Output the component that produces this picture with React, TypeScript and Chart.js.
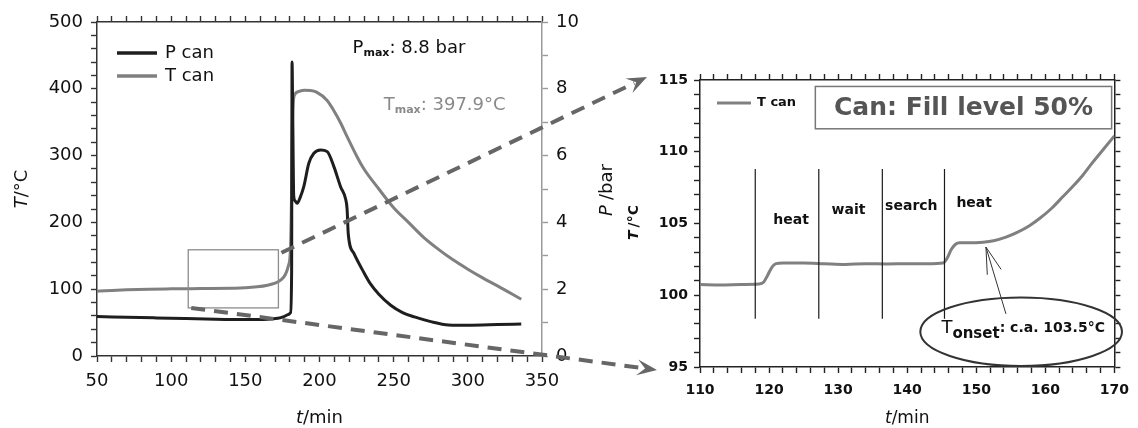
import React, { useEffect, useRef } from 'react';
import { Chart, registerables } from 'chart.js';

Chart.register(...registerables);

const FONT = "'DejaVu Sans', Verdana, sans-serif";
const T_COLOR = '#808080';
const P_COLOR = '#1e1e1e';

// ---------------- Left panel data ----------------
const tCanTime = [50, 60, 70, 85, 100, 120, 140, 150, 158, 165, 170, 174, 177, 179, 180.4, 181.1, 181.6, 182.2, 183, 186, 190, 194, 198, 205, 209.5, 214, 218.7, 225.4, 230, 240, 250, 260, 270, 280, 290, 300, 310, 320, 336];
const tCanTemp = [97, 98, 99, 100, 100.5, 101, 101.5, 102, 103.5, 106, 109, 114, 122, 135, 159, 234, 330, 375, 390, 396, 397.9, 397.5, 395, 383, 368, 350, 328, 298, 280, 250, 222, 200, 178, 160, 144, 130, 117, 105, 85];

const pCanTime = [50, 70, 90, 110, 130, 150, 165, 172, 176, 179, 180.5, 181.2, 181.5, 182, 182.6, 183.5, 184.9, 187, 189.4, 192.8, 196.2, 200.7, 205.2, 209.7, 214.2, 217.6, 218.6, 219.4, 223.2, 229.9, 234.5, 240, 248, 256, 264, 275, 287, 300, 320, 336];
const pCanPressure = [1.18, 1.16, 1.14, 1.12, 1.1, 1.09, 1.1, 1.13, 1.18, 1.24, 1.3, 2.5, 8.8, 7.0, 4.8, 4.65, 4.57, 4.75, 5.07, 5.77, 6.07, 6.17, 6.12, 5.67, 5.07, 4.7, 4.4, 3.65, 3.07, 2.5, 2.15, 1.85, 1.52, 1.3, 1.17, 1.03, 0.93, 0.92, 0.94, 0.96];

const leftTimeRange = [50, 350];
const leftTempRange = [0, 500];
const pressureRange = [0, 10];

const zoomBoxTime = [111.5, 172.3];
const zoomBoxTemp = [72, 159];

// ---------------- Right panel data ----------------
const zoomTime = [110, 113, 116, 118.5, 119.2, 119.8, 120.4, 121, 122, 125, 128, 131, 134, 137, 140, 143, 145.2, 145.8, 146.4, 147, 147.6, 149, 151, 152.5, 154.3, 156, 157.7, 159.3, 161, 162.6, 164.2, 165.4, 166.6, 168.3, 170];
const zoomTemp = [100.75, 100.72, 100.75, 100.78, 100.9, 101.4, 101.95, 102.2, 102.25, 102.25, 102.2, 102.15, 102.2, 102.18, 102.2, 102.2, 102.25, 102.6, 103.2, 103.55, 103.65, 103.65, 103.7, 103.8, 104.05, 104.4, 104.85, 105.4, 106.1, 106.9, 107.7, 108.35, 109.1, 110.1, 111.1];

const rightTimeRange = [110, 170];
const rightTempRange = [95, 115];

const phaseBoundaries = [118, 127.2, 136.4, 145.4];
const phaseLineTemp = [98.36, 108.8];
const phaseLabels = ['heat', 'wait', 'search', 'heat'];
const phaseLabelTime = [123.2, 131.5, 140.6, 149.7];
const phaseLabelTemp = [105.2, 105.9, 106.2, 106.4];

const titleBoxTime = [126.7, 169.6];
const titleBoxTemp = [111.6, 114.55];

const onsetEllipseTime = [141.9, 171.1];
const onsetEllipseTemp = [95.07, 99.84];
const onsetArrowTime = [154.3, 151.4];
const onsetArrowTemp = [98.7, 103.36];

type Part = { text: string; font: string; dy?: number; color?: string; gap?: number };

function drawRich(ctx: CanvasRenderingContext2D, parts: Part[], x: number, y: number, align: 'left' | 'center', color: string) {
  ctx.save();
  ctx.textBaseline = 'middle';
  ctx.textAlign = 'left';
  let total = 0;
  for (const p of parts) {
    ctx.font = p.font;
    total += ctx.measureText(p.text).width + (p.gap || 0);
  }
  let cx = align === 'center' ? x - total / 2 : x;
  for (const p of parts) {
    ctx.font = p.font;
    ctx.fillStyle = p.color || color;
    ctx.fillText(p.text, cx, y + (p.dy || 0));
    cx += ctx.measureText(p.text).width + (p.gap || 0);
  }
  ctx.restore();
}

function drawRotated(ctx: CanvasRenderingContext2D, parts: Part[], x: number, y: number, color: string) {
  ctx.save();
  ctx.translate(x, y);
  ctx.rotate(-Math.PI / 2);
  drawRich(ctx, parts, 0, 0, 'center', color);
  ctx.restore();
}

function dashedArrow(ctx: CanvasRenderingContext2D, x0: number, y0: number, x1: number, y1: number) {
  const dx = x1 - x0, dy = y1 - y0;
  const len = Math.hypot(dx, dy);
  const ux = dx / len, uy = dy / len;
  const head = 20;
  ctx.save();
  ctx.strokeStyle = '#666';
  ctx.lineWidth = 4;
  ctx.setLineDash([14, 9]);
  ctx.beginPath();
  ctx.moveTo(x0, y0);
  ctx.lineTo(x1 - ux * head * 0.7, y1 - uy * head * 0.7);
  ctx.stroke();
  ctx.setLineDash([]);
  ctx.fillStyle = '#666';
  const bx = x1 - ux * head, by = y1 - uy * head;
  const px = -uy, py = ux;
  ctx.beginPath();
  ctx.moveTo(x1, y1);
  ctx.lineTo(bx + px * 8, by + py * 8);
  ctx.lineTo(x1 - ux * head * 0.6, y1 - uy * head * 0.6);
  ctx.lineTo(bx - px * 8, by - py * 8);
  ctx.closePath();
  ctx.fill();
  ctx.restore();
}

const leftDecor = {
  id: 'leftDecor',
  afterDraw(chart: any) {
    const { ctx, chartArea: a } = chart;
    const x = chart.scales.x, y = chart.scales.y, y1 = chart.scales.y1;
    ctx.save();
    // zoom rectangle
    const rx0 = x.getPixelForValue(zoomBoxTime[0]);
    const rx1 = x.getPixelForValue(zoomBoxTime[1]);
    const ry0 = y.getPixelForValue(zoomBoxTemp[1]);
    const ry1 = y.getPixelForValue(zoomBoxTemp[0]);
    ctx.strokeStyle = '#8c8c8c';
    ctx.lineWidth = 1.3;
    ctx.strokeRect(rx0, ry0, rx1 - rx0, ry1 - ry0);

    // legend
    const items = [
      { label: 'P can', color: P_COLOR },
      { label: 'T can', color: T_COLOR },
    ];
    items.forEach((it, i) => {
      const ly = a.top + 31 + i * 23;
      const lx = a.left + 20;
      ctx.strokeStyle = it.color;
      ctx.lineWidth = 3.5;
      ctx.beginPath();
      ctx.moveTo(lx, ly);
      ctx.lineTo(lx + 40, ly);
      ctx.stroke();
      ctx.fillStyle = '#111';
      ctx.font = `18px ${FONT}`;
      ctx.textBaseline = 'middle';
      ctx.textAlign = 'left';
      ctx.fillText(it.label, lx + 48, ly);
    });

    // Pmax / Tmax annotations
    drawRich(ctx, [
      { text: 'P', font: `18px ${FONT}` },
      { text: 'max', font: `bold 11px ${FONT}`, dy: 5 },
      { text: ': 8.8 bar', font: `18px ${FONT}` },
    ], x.getPixelForValue(222.3), y1.getPixelForValue(9.22), 'left', '#111');
    drawRich(ctx, [
      { text: 'T', font: `18px ${FONT}` },
      { text: 'max', font: `bold 11px ${FONT}`, dy: 5 },
      { text: ': 397.9°C', font: `18px ${FONT}` },
    ], x.getPixelForValue(243.3), y.getPixelForValue(375.7), 'left', '#8a8a8a');

    // axis titles
    drawRotated(ctx, [
      { text: 'T', font: `italic 18px ${FONT}` },
      { text: '/°C', font: `18px ${FONT}` },
    ], a.left - 75, (a.top + a.bottom) / 2, '#111');
    drawRich(ctx, [
      { text: 't', font: `italic 18px ${FONT}` },
      { text: '/min', font: `18px ${FONT}` },
    ], (a.left + a.right) / 2, a.bottom + 62, 'center', '#111');
    drawRotated(ctx, [
      { text: 'P', font: `italic 18px ${FONT}`, gap: 5 },
      { text: '/bar', font: `18px ${FONT}` },
    ], a.right + 65, (a.top + a.bottom) / 2 + 1, '#111');
    ctx.restore();
  },
};

const makeRightDecor = (getLeft: () => any) => ({
  id: 'rightDecor',
  afterDraw(chart: any) {
    const { ctx, chartArea: a } = chart;
    const x = chart.scales.x, y = chart.scales.y;
    ctx.save();

    // phase lines
    ctx.strokeStyle = '#1a1a1a';
    ctx.lineWidth = 1.2;
    phaseBoundaries.forEach((t) => {
      const px = x.getPixelForValue(t);
      ctx.beginPath();
      ctx.moveTo(px, y.getPixelForValue(phaseLineTemp[1]));
      ctx.lineTo(px, y.getPixelForValue(phaseLineTemp[0]));
      ctx.stroke();
    });
    ctx.font = `bold 14px ${FONT}`;
    ctx.fillStyle = '#111';
    ctx.textAlign = 'center';
    ctx.textBaseline = 'middle';
    phaseLabels.forEach((lab, i) => {
      ctx.fillText(lab, x.getPixelForValue(phaseLabelTime[i]), y.getPixelForValue(phaseLabelTemp[i]));
    });

    // legend
    const ly = a.top + 23;
    ctx.strokeStyle = T_COLOR;
    ctx.lineWidth = 3;
    ctx.beginPath();
    ctx.moveTo(a.left + 17, ly);
    ctx.lineTo(a.left + 51, ly);
    ctx.stroke();
    ctx.font = `bold 13px ${FONT}`;
    ctx.fillStyle = '#111';
    ctx.textAlign = 'left';
    ctx.fillText('T can', a.left + 57, ly);

    // title box
    const bx0 = x.getPixelForValue(titleBoxTime[0]);
    const bx1 = x.getPixelForValue(titleBoxTime[1]);
    const by0 = y.getPixelForValue(titleBoxTemp[1]);
    const by1 = y.getPixelForValue(titleBoxTemp[0]);
    ctx.strokeStyle = '#777';
    ctx.lineWidth = 1.5;
    ctx.strokeRect(bx0, by0, bx1 - bx0, by1 - by0);
    ctx.font = `bold 25px ${FONT}`;
    ctx.fillStyle = '#555';
    ctx.textAlign = 'center';
    ctx.fillText('Can: Fill level 50%', (bx0 + bx1) / 2, (by0 + by1) / 2 + 1);

    // onset ellipse
    const ex0 = x.getPixelForValue(onsetEllipseTime[0]);
    const ex1 = x.getPixelForValue(onsetEllipseTime[1]);
    const ey0 = y.getPixelForValue(onsetEllipseTemp[1]);
    const ey1 = y.getPixelForValue(onsetEllipseTemp[0]);
    ctx.strokeStyle = '#333';
    ctx.lineWidth = 2;
    ctx.beginPath();
    ctx.ellipse((ex0 + ex1) / 2, (ey0 + ey1) / 2, (ex1 - ex0) / 2, (ey1 - ey0) / 2, 0, 0, Math.PI * 2);
    ctx.stroke();
    drawRich(ctx, [
      { text: 'T', font: `18px ${FONT}` },
      { text: 'onset', font: `bold 15px ${FONT}`, dy: 5 },
      { text: ': c.a. 103.5°C', font: `bold 14px ${FONT}` },
    ], (ex0 + ex1) / 2 + 2, (ey0 + ey1) / 2 - 3, 'center', '#111');

    // onset arrow
    const ax0 = x.getPixelForValue(onsetArrowTime[0]);
    const ay0 = y.getPixelForValue(onsetArrowTemp[0]);
    const ax1 = x.getPixelForValue(onsetArrowTime[1]);
    const ay1 = y.getPixelForValue(onsetArrowTemp[1]);
    ctx.strokeStyle = '#333';
    ctx.lineWidth = 1;
    ctx.beginPath();
    ctx.moveTo(ax0, ay0);
    ctx.lineTo(ax1, ay1);
    ctx.moveTo(ax1, ay1);
    ctx.lineTo(x.getPixelForValue(151.6), y.getPixelForValue(101.43));
    ctx.moveTo(ax1, ay1);
    ctx.lineTo(x.getPixelForValue(153.6), y.getPixelForValue(101.8));
    ctx.stroke();

    // axis titles
    drawRotated(ctx, [
      { text: 'T', font: `italic bold 14px ${FONT}`, gap: 3 },
      { text: '/°C', font: `bold 14px ${FONT}` },
    ], a.left - 66, (a.top + a.bottom) / 2 - 1, '#111');
    drawRich(ctx, [
      { text: 't', font: `italic 17px ${FONT}` },
      { text: '/min', font: `17px ${FONT}` },
    ], (a.left + a.right) / 2, a.bottom + 52, 'center', '#111');

    // connectors from the left zoom box
    const left = getLeft();
    if (left) {
      const lx = left.scales.x, lyS = left.scales.y;
      dashedArrow(ctx, lx.getPixelForValue(zoomBoxTime[1]) + 3, lyS.getPixelForValue(zoomBoxTemp[1]) + 3, a.left - 53, a.top - 3);
      dashedArrow(ctx, lx.getPixelForValue(zoomBoxTime[0]) + 3, lyS.getPixelForValue(zoomBoxTemp[0]), a.left - 43, a.bottom + 3);
    }
    ctx.restore();
  },
});

function axisBase(color: string) {
  return {
    type: 'linear' as const,
    border: { color, width: 1.5 },
    grid: {
      display: true,
      drawOnChartArea: false,
      drawTicks: true,
      tickLength: 6,
      tickWidth: 1.4,
      tickColor: color,
      color,
      lineWidth: 1,
    },
  };
}

export default function App() {
  const leftRef = useRef<HTMLCanvasElement>(null);
  const rightRef = useRef<HTMLCanvasElement>(null);

  useEffect(() => {
    Chart.defaults.font.family = FONT;
    let leftChart: any = null;
    leftChart = new Chart(leftRef.current as HTMLCanvasElement, {
      type: 'line',
      data: {
        datasets: [
          {
            label: 'P can',
            data: pCanTime.map((t, i) => ({ x: t, y: pCanPressure[i] })),
            borderColor: P_COLOR,
            borderWidth: 3,
            pointRadius: 0,
            cubicInterpolationMode: 'monotone',
            xAxisID: 'x',
            yAxisID: 'y1',
          },
          {
            label: 'T can',
            data: tCanTime.map((t, i) => ({ x: t, y: tCanTemp[i] })),
            borderColor: T_COLOR,
            borderWidth: 3,
            pointRadius: 0,
            cubicInterpolationMode: 'monotone',
            xAxisID: 'x',
            yAxisID: 'y',
          },
        ],
      },
      options: {
        responsive: false,
        animation: false,
        events: [],
        layout: { padding: 0 },
        plugins: { legend: { display: false }, tooltip: { enabled: false } },
        scales: {
          x: {
            ...axisBase('#333'),
            position: 'bottom',
            min: leftTimeRange[0],
            max: leftTimeRange[1],
            ticks: {
              stepSize: 10,
              autoSkip: false,
              maxRotation: 0,
              padding: 9,
              color: '#111',
              font: { size: 18, family: FONT },
              callback: (v: any) => (Number(v) % 50 === 0 ? String(v) : ''),
            },
            afterFit: (s: any) => { s.height = 72; },
          },
          x2: {
            ...axisBase('#333'),
            position: 'top',
            min: leftTimeRange[0],
            max: leftTimeRange[1],
            ticks: { stepSize: 10, display: false, autoSkip: false },
            afterFit: (s: any) => { s.height = 22; },
          },
          y: {
            ...axisBase('#333'),
            position: 'left',
            min: leftTempRange[0],
            max: leftTempRange[1],
            ticks: {
              stepSize: 20,
              autoSkip: false,
              padding: 8,
              color: '#111',
              font: { size: 18, family: FONT },
              callback: (v: any) => (Number(v) % 100 === 0 ? String(v) : ''),
            },
            afterFit: (s: any) => { s.width = 97; },
          },
          y1: {
            ...axisBase('#999'),
            position: 'right',
            min: pressureRange[0],
            max: pressureRange[1],
            ticks: {
              stepSize: 1,
              autoSkip: false,
              padding: 8,
              color: '#111',
              font: { size: 18, family: FONT },
              callback: (v: any) => (Number(v) % 2 === 0 ? String(v) : ''),
            },
            afterFit: (s: any) => { s.width = 596; },
          },
        },
      } as any,
      plugins: [leftDecor],
    });

    const rightChart = new Chart(rightRef.current as HTMLCanvasElement, {
      type: 'line',
      data: {
        datasets: [
          {
            label: 'T can',
            data: zoomTime.map((t, i) => ({ x: t, y: zoomTemp[i] })),
            borderColor: T_COLOR,
            borderWidth: 3,
            pointRadius: 0,
            cubicInterpolationMode: 'monotone',
            xAxisID: 'x',
            yAxisID: 'y',
          },
        ],
      },
      options: {
        responsive: false,
        animation: false,
        events: [],
        layout: { padding: 0 },
        plugins: { legend: { display: false }, tooltip: { enabled: false } },
        scales: {
          x: {
            ...axisBase('#222'),
            position: 'bottom',
            min: rightTimeRange[0],
            max: rightTimeRange[1],
            ticks: {
              stepSize: 2,
              autoSkip: false,
              maxRotation: 0,
              padding: 9,
              color: '#111',
              font: { size: 14, weight: 'bold', family: FONT },
              callback: (v: any) => (Number(v) % 10 === 0 ? String(v) : ''),
            },
            afterFit: (s: any) => { s.height = 61; },
          },
          x2: {
            ...axisBase('#222'),
            position: 'top',
            min: rightTimeRange[0],
            max: rightTimeRange[1],
            ticks: { stepSize: 2, display: false, autoSkip: false },
            afterFit: (s: any) => { s.height = 80; },
          },
          y: {
            ...axisBase('#222'),
            position: 'left',
            min: rightTempRange[0],
            max: rightTempRange[1],
            ticks: {
              stepSize: 1,
              autoSkip: false,
              padding: 6,
              color: '#111',
              font: { size: 14, weight: 'bold', family: FONT },
              callback: (v: any) => (Number(v) % 5 === 0 ? String(v) : ''),
            },
            afterFit: (s: any) => { s.width = 700; },
          },
          y2: {
            ...axisBase('#222'),
            position: 'right',
            min: rightTempRange[0],
            max: rightTempRange[1],
            ticks: { stepSize: 1, display: false, autoSkip: false },
            afterFit: (s: any) => { s.width = 19; },
          },
        },
      } as any,
      plugins: [makeRightDecor(() => leftChart)],
    });

    return () => {
      rightChart.destroy();
      leftChart.destroy();
    };
  }, []);

  const canvasStyle: React.CSSProperties = { position: 'absolute', left: 0, top: 0 };
  return (
    <div style={{ position: 'fixed', left: 0, top: 0, width: 1138, height: 428, background: '#fff' }}>
      <canvas ref={leftRef} width={1138} height={428} style={canvasStyle} />
      <canvas ref={rightRef} width={1138} height={428} style={canvasStyle} />
    </div>
  );
}
